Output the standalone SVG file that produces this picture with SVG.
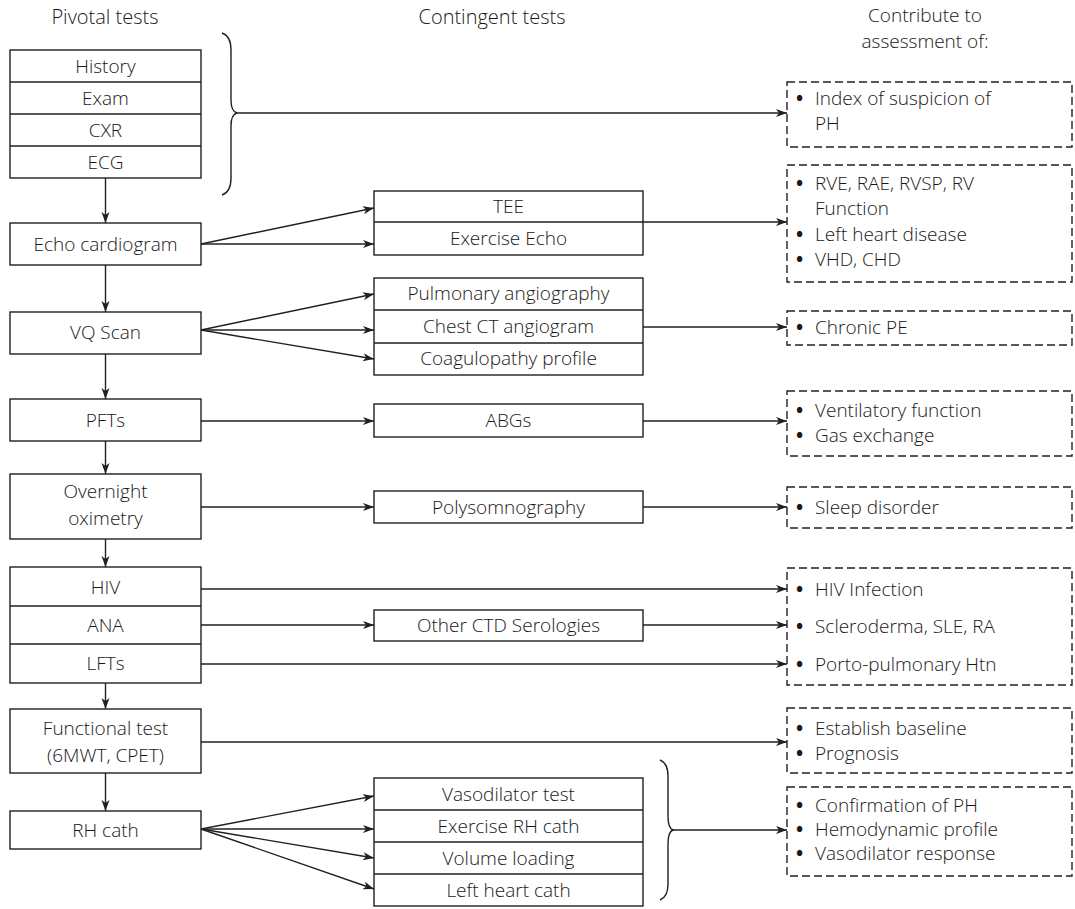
<svg xmlns="http://www.w3.org/2000/svg" width="1075" height="909" viewBox="0 0 1075 909">
<defs>
<marker id="ah" markerWidth="12" markerHeight="10" refX="11" refY="4" orient="auto" markerUnits="userSpaceOnUse">
<path d="M0,0 L11,4 L0,8 L3,4 Z" fill="#231f20"/>
</marker>
<style>
.box{fill:#fff;stroke:#231f20;stroke-width:1.4}
.dash{fill:#fff;stroke:#231f20;stroke-width:1.4;stroke-dasharray:8 4}
.ln{fill:none;stroke:#231f20;stroke-width:1.4}
.ar{fill:none;stroke:#231f20;stroke-width:1.4;marker-end:url(#ah)}
text{font-family:"Open Sans","Noto Sans","DejaVu Sans",sans-serif;font-size:19px;font-weight:300;fill:#1a1718}
.c{text-anchor:middle}
.h{font-size:20px}
.h2{font-size:19px}
.b{font-weight:700}
</style>
</defs>
<rect width="1075" height="909" fill="#fff"/>

<g id="headers">
<text class="c h" x="105" y="24">Pivotal tests</text>
<text class="c h" x="492" y="24">Contingent tests</text>
<text class="c h2" x="925" y="22">Contribute to</text>
<text class="c h2" x="925" y="48">assessment of:</text>
</g>

<g id="connectors">
<path class="ln" d="M222,33 C228,35 231,40 231,50 L231,100 C231,108 233,112 237,113 C233,114 231,118 231,126 L231,178 C231,188 228,193 222,195"/>
<path class="ln" d="M660,760 C665,762 668,767 668,776 L668,816 C668,824 670,829 673,830 C670,831 668,836 668,844 L668,884 C668,893 665,898 660,900"/>
<line class="ar" x1="237" y1="113" x2="787" y2="113"/>
<line class="ar" x1="105.5" y1="178" x2="105.5" y2="223"/>
<line class="ar" x1="105.5" y1="265" x2="105.5" y2="312"/>
<line class="ar" x1="105.5" y1="354" x2="105.5" y2="399"/>
<line class="ar" x1="105.5" y1="441" x2="105.5" y2="474"/>
<line class="ar" x1="105.5" y1="539" x2="105.5" y2="567"/>
<line class="ar" x1="105.5" y1="683" x2="105.5" y2="709"/>
<line class="ar" x1="105.5" y1="773" x2="105.5" y2="811"/>
<line class="ar" x1="201" y1="244" x2="374" y2="208"/>
<line class="ar" x1="201" y1="244" x2="374" y2="244"/>
<line class="ar" x1="643" y1="222" x2="787" y2="222"/>
<line class="ar" x1="201" y1="330" x2="374" y2="294"/>
<line class="ar" x1="201" y1="330" x2="374" y2="330"/>
<line class="ar" x1="201" y1="330" x2="374" y2="359"/>
<line class="ar" x1="643" y1="327" x2="787" y2="327"/>
<line class="ar" x1="201" y1="421" x2="374" y2="421"/>
<line class="ar" x1="643" y1="421" x2="787" y2="421"/>
<line class="ar" x1="201" y1="507" x2="374" y2="507"/>
<line class="ar" x1="643" y1="507" x2="787" y2="507"/>
<line class="ar" x1="201" y1="589" x2="787" y2="589"/>
<line class="ar" x1="201" y1="625" x2="374" y2="625"/>
<line class="ar" x1="643" y1="625" x2="787" y2="625"/>
<line class="ar" x1="201" y1="664" x2="787" y2="664"/>
<line class="ar" x1="201" y1="742" x2="787" y2="742"/>
<line class="ar" x1="201" y1="829" x2="374" y2="796"/>
<line class="ar" x1="201" y1="829" x2="374" y2="829"/>
<line class="ar" x1="201" y1="829" x2="374" y2="858"/>
<line class="ar" x1="201" y1="829" x2="374" y2="889"/>
<line class="ar" x1="673" y1="830" x2="787" y2="830"/>
</g>

<g id="initial">
<rect class="box" x="10" y="50" width="191" height="128"/>
<line class="ln" x1="10" y1="82" x2="201" y2="82"/>
<line class="ln" x1="10" y1="114" x2="201" y2="114"/>
<line class="ln" x1="10" y1="146" x2="201" y2="146"/>
<text class="c" x="105.5" y="73">History</text>
<text class="c" x="105.5" y="105">Exam</text>
<text class="c" x="105.5" y="137">CXR</text>
<text class="c" x="105.5" y="169">ECG</text>
</g>

<g id="echo">
<rect class="box" x="10" y="223" width="191" height="42"/>
<text class="c" x="105.5" y="251">Echo cardiogram</text>
</g>

<g id="echo-contingent">
<rect class="box" x="374" y="191" width="269" height="64"/>
<line class="ln" x1="374" y1="222" x2="643" y2="222"/>
<text class="c" x="508.5" y="213">TEE</text>
<text class="c" x="508.5" y="245">Exercise Echo</text>
</g>

<g id="vq">
<rect class="box" x="10" y="312" width="191" height="42"/>
<text class="c" x="105.5" y="339">VQ Scan</text>
</g>

<g id="vq-contingent">
<rect class="box" x="374" y="278" width="269" height="97"/>
<line class="ln" x1="374" y1="310" x2="643" y2="310"/>
<line class="ln" x1="374" y1="343" x2="643" y2="343"/>
<text class="c" x="508.5" y="300">Pulmonary angiography</text>
<text class="c" x="508.5" y="333">Chest CT angiogram</text>
<text class="c" x="508.5" y="365">Coagulopathy profile</text>
</g>

<g id="pfts">
<rect class="box" x="10" y="399" width="191" height="42"/>
<text class="c" x="105.5" y="427">PFTs</text>
</g>
<g id="abgs">
<rect class="box" x="374" y="404" width="269" height="33"/>
<text class="c" x="508.5" y="427">ABGs</text>
</g>

<g id="oximetry">
<rect class="box" x="10" y="474" width="191" height="65"/>
<text class="c" x="105.5" y="498">Overnight</text>
<text class="c" x="105.5" y="525">oximetry</text>
</g>
<g id="polysomnography">
<rect class="box" x="374" y="491" width="269" height="32"/>
<text class="c" x="508.5" y="514">Polysomnography</text>
</g>

<g id="serology">
<rect class="box" x="10" y="567" width="191" height="116"/>
<line class="ln" x1="10" y1="606" x2="201" y2="606"/>
<line class="ln" x1="10" y1="644" x2="201" y2="644"/>
<text class="c" x="105.5" y="594">HIV</text>
<text class="c" x="105.5" y="632">ANA</text>
<text class="c" x="105.5" y="670">LFTs</text>
</g>
<g id="ctd">
<rect class="box" x="374" y="610" width="269" height="31"/>
<text class="c" x="508.5" y="632">Other CTD Serologies</text>
</g>

<g id="functional">
<rect class="box" x="10" y="709" width="191" height="64"/>
<text class="c" x="105.5" y="735">Functional test</text>
<text class="c" x="105.5" y="762">(6MWT, CPET)</text>
</g>

<g id="rhcath">
<rect class="box" x="10" y="811" width="191" height="38"/>
<text class="c" x="105.5" y="837">RH cath</text>
</g>
<g id="rhcath-contingent">
<rect class="box" x="374" y="778" width="269" height="128"/>
<line class="ln" x1="374" y1="810" x2="643" y2="810"/>
<line class="ln" x1="374" y1="842" x2="643" y2="842"/>
<line class="ln" x1="374" y1="874" x2="643" y2="874"/>
<text class="c" x="508.5" y="801">Vasodilator test</text>
<text class="c" x="508.5" y="833">Exercise RH cath</text>
<text class="c" x="508.5" y="865">Volume loading</text>
<text class="c" x="508.5" y="897">Left heart cath</text>
</g>

<g id="out-suspicion">
<rect class="dash" x="787" y="82" width="285" height="65"/>
<text x="796" y="105"><tspan class="b">•</tspan><tspan x="815">Index of suspicion of</tspan></text>
<text x="815" y="130">PH</text>
</g>
<g id="out-echo">
<rect class="dash" x="787" y="165" width="285" height="117"/>
<text x="796" y="190"><tspan class="b">•</tspan><tspan x="815">RVE, RAE, RVSP, RV</tspan></text>
<text x="815" y="215">Function</text>
<text x="796" y="241"><tspan class="b">•</tspan><tspan x="815">Left heart disease</tspan></text>
<text x="796" y="266"><tspan class="b">•</tspan><tspan x="815">VHD, CHD</tspan></text>
</g>
<g id="out-pe">
<rect class="dash" x="787" y="311" width="285" height="34"/>
<text x="796" y="334"><tspan class="b">•</tspan><tspan x="815">Chronic PE</tspan></text>
</g>
<g id="out-vent">
<rect class="dash" x="787" y="391" width="285" height="65"/>
<text x="796" y="417"><tspan class="b">•</tspan><tspan x="815">Ventilatory function</tspan></text>
<text x="796" y="442"><tspan class="b">•</tspan><tspan x="815">Gas exchange</tspan></text>
</g>
<g id="out-sleep">
<rect class="dash" x="787" y="487" width="285" height="41"/>
<text x="796" y="514"><tspan class="b">•</tspan><tspan x="815">Sleep disorder</tspan></text>
</g>
<g id="out-serology">
<rect class="dash" x="787" y="568" width="285" height="117"/>
<text x="796" y="596"><tspan class="b">•</tspan><tspan x="815">HIV Infection</tspan></text>
<text x="796" y="633"><tspan class="b">•</tspan><tspan x="815">Scleroderma, SLE, RA</tspan></text>
<text x="796" y="671"><tspan class="b">•</tspan><tspan x="815">Porto-pulmonary Htn</tspan></text>
</g>
<g id="out-functional">
<rect class="dash" x="787" y="708" width="285" height="65"/>
<text x="796" y="735"><tspan class="b">•</tspan><tspan x="815">Establish baseline</tspan></text>
<text x="796" y="760"><tspan class="b">•</tspan><tspan x="815">Prognosis</tspan></text>
</g>
<g id="out-rhcath">
<rect class="dash" x="787" y="787" width="285" height="89"/>
<text x="796" y="812"><tspan class="b">•</tspan><tspan x="815">Confirmation of PH</tspan></text>
<text x="796" y="836"><tspan class="b">•</tspan><tspan x="815">Hemodynamic profile</tspan></text>
<text x="796" y="860"><tspan class="b">•</tspan><tspan x="815">Vasodilator response</tspan></text>
</g>
</svg>
